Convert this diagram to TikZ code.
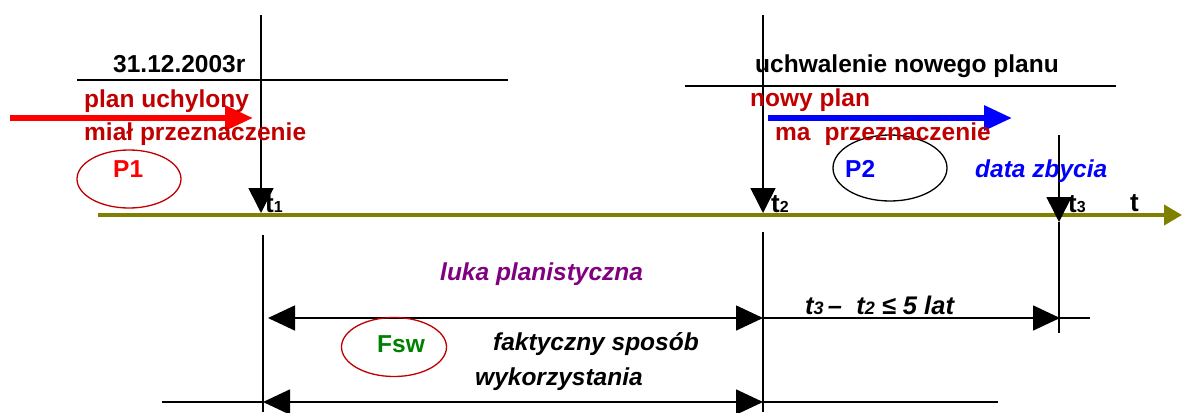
\documentclass[tikz,border=0pt]{standalone}
\usepackage{fontspec}
\setmainfont{Liberation Sans}
\usetikzlibrary{arrows.meta,shapes.geometric}
\definecolor{dred}{HTML}{C00000}
\definecolor{axiscol}{HTML}{808000}
\definecolor{fgreen}{HTML}{008000}
\definecolor{fpurple}{HTML}{800080}
\newcommand{\tl}[1]{\fontsize{26}{28}\selectfont\bfseries t\fontsize{16}{18}\selectfont #1}
\begin{document}
\begin{tikzpicture}[x=1pt,y=-1pt,
  txt/.style={inner sep=0pt,anchor=base west,font=\fontsize{24.5}{28}\selectfont\bfseries},
  itx/.style={txt,font=\fontsize{24.5}{28}\selectfont\bfseries\itshape},
  tlab/.style={inner sep=0pt,anchor=base west},
  thin/.style={line width=1.6pt,black},
  downarr/.style={thin,-{Triangle[length=25pt,width=25pt]}},
  harr/.style={thin,-{Triangle[length=27pt,width=25pt]}},
  dharr/.style={thin,{Triangle[length=27pt,width=25pt]}-{Triangle[length=27pt,width=25pt]}},
  fatarr/.style={line width=6pt,-{Triangle[length=28pt,width=24pt]}},
  ell/.style={ellipse,draw,line width=1.3pt,inner sep=0pt}]
\useasboundingbox (0,0) rectangle (1182,412);
% coordinates
\coordinate (t1top) at (261,15);
\coordinate (t1ax) at (261,213);
\coordinate (t1bt) at (263,235);
\coordinate (t1bb) at (263,412);
\coordinate (t2top) at (763,15);
\coordinate (t2ax) at (763,213);
\coordinate (t2bt) at (763,232);
\coordinate (t2bb) at (763,412);
\coordinate (t3top) at (1059,135);
\coordinate (t3ax) at (1059,222);
\coordinate (t3bb) at (1059,333);
\coordinate (axL) at (98,215);
\coordinate (axR) at (1182,215);
\coordinate (h1L) at (77,80);
\coordinate (h1R) at (508,80);
\coordinate (h2L) at (685,86);
\coordinate (h2R) at (1116,86);
\coordinate (rL) at (10,118);
\coordinate (rR) at (253,118);
\coordinate (bL) at (768,118);
\coordinate (bR) at (1012,118);
\coordinate (m1L) at (268,318);
\coordinate (m1M) at (763,318);
\coordinate (m1R) at (1060,318);
\coordinate (m1E) at (1090,318);
\coordinate (m2S) at (162,402);
\coordinate (m2L) at (263,402);
\coordinate (m2M) at (763,402);
\coordinate (m2E) at (998,402);
% axis
\draw[axiscol,line width=4pt,-{Triangle[length=18pt,width=20pt]}] (axL) -- (axR);
% horizontal lines
\draw[thin] (h1L) -- (h1R);
\draw[thin] (h2L) -- (h2R);
% verticals
\draw[downarr] (t1top) -- (t1ax);
\draw[thin] (t1bt) -- (t1bb);
\draw[downarr] (t2top) -- (t2ax);
\draw[thin] (t2bt) -- (t2bb);
\draw[downarr] (t3top) -- (t3ax);
\draw[thin] (t3ax) -- (t3bb);
% fat arrows
\draw[fatarr,red] (rL) -- (rR);
\draw[fatarr,blue] (bL) -- (bR);
% measurement arrows
\draw[dharr] (m1L) -- (m1M);
\draw[harr] (m1M) -- (m1R);
\draw[thin] (m1R) -- (m1E);
\draw[thin] (m2S) -- (m2L);
\draw[dharr] (m2L) -- (m2M);
\draw[thin] (m2M) -- (m2E);
% ellipses
\node[ell,draw=dred,minimum width=104pt,minimum height=58pt] (e1) at (129,179) {};
\node[ell,draw=black,minimum width=114pt,minimum height=66pt] (e2) at (890,168) {};
\node[ell,draw=dred,minimum width=105pt,minimum height=59pt] (e3) at (394,347) {};
% texts
\node[txt] (date) at (113,73) {31.12.2003r};
\node[txt,text=dred] (plan1) at (84,107) {plan uchylony};
\node[txt,text=dred] (mial) at (84,140) {miał przeznaczenie};
\node[txt,text=red] (p1) at (113,177) {P1};
\node[txt] (uchw) at (755,72) {uchwalenie nowego planu};
\node[txt,text=dred] (nowy) at (750,106) {nowy plan};
\node[txt,text=dred] (ma) at (775,140) {ma\hspace{14pt}przeznaczenie};
\node[txt,text=blue] (p2) at (845,177) {P2};
\node[itx,text=blue] (data) at (975,177) {data zbycia};
\node[tlab] (lt1) at (265,212) {\tl{1}};
\node[tlab] (lt2) at (771,212) {\tl{2}};
\node[tlab] (lt3) at (1068,212) {\tl{3}};
\node[tlab] (lt) at (1130,211) {\fontsize{26}{28}\selectfont\bfseries t};
\node[itx,text=fpurple] (luka) at (440,280) {luka planistyczna};
\node[tlab] (diff) at (805,314) {\fontsize{25.5}{28}\selectfont\bfseries\itshape t\fontsize{18}{18}\selectfont 3\fontsize{25.5}{28}\selectfont\,--\ \ t\fontsize{18}{18}\selectfont 2\fontsize{25.5}{28}\selectfont\ ≤ 5 lat};
\node[txt,text=fgreen] (fsw) at (377,352) {Fsw};
\node[itx] (fakt) at (493,350) {faktyczny sposób};
\node[itx] (wyk) at (475,385) {wykorzystania};
\end{tikzpicture}
\end{document}
